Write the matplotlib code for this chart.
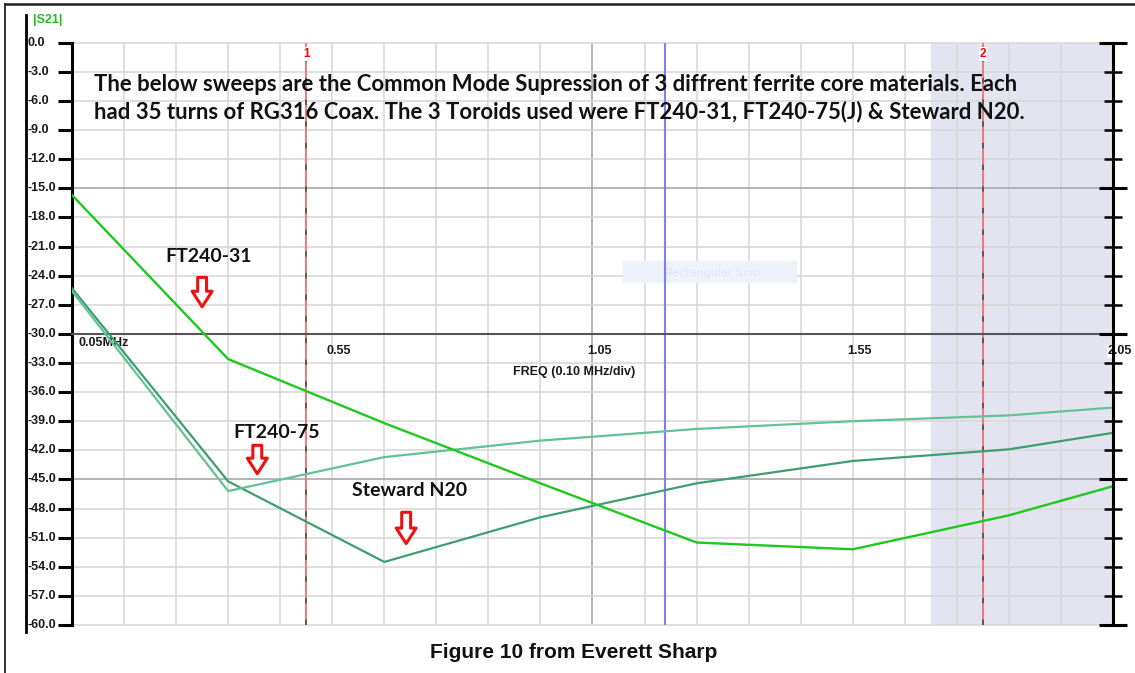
import matplotlib
matplotlib.use('Agg')
import matplotlib.pyplot as plt
import matplotlib.transforms as mtransforms
from matplotlib.lines import Line2D
from matplotlib.patches import Rectangle
import numpy as np

# sweep points (MHz) and |S21| (dB)
freq = [0.05, 0.35, 0.65, 0.95, 1.25, 1.55, 1.85, 2.05]
ft240_31 = [-15.7, -32.6, -39.2, -45.4, -51.5, -52.2, -48.7, -45.7]
ft240_75 = [-25.6, -46.2, -42.7, -41.0, -39.8, -39.0, -38.4, -37.6]
steward_n20 = [-25.3, -45.2, -53.5, -48.9, -45.4, -43.1, -41.9, -40.2]

marker_freqs = [0.50, 1.80]
marker_names = ['1', '2']
blue_freq = 1.19
shade_span = (1.70, 2.05)

y_ticks = np.arange(0, -61, -3)
x_labels = {0.55: '0.55', 1.05: '1.05', 1.55: '1.55', 2.05: '2.05'}

W, H = 1135, 673
fig = plt.figure(figsize=(W / 100, H / 100), dpi=100)
x0, x1, yt, yb = 72, 1113, 42.7, 625
ax = fig.add_axes([x0 / W, 1 - yb / H, (x1 - x0) / W, (yb - yt) / H])
ax.set_xlim(0.05, 2.05)
ax.set_ylim(-60, 0)

# grid
for f in np.arange(0.15, 2.05, 0.1):
    c = '#a8a8a8' if abs(f - 1.05) < 1e-6 else '#d9d9d9'
    ax.axvline(f, color=c, lw=1.2, zorder=1)
for v in y_ticks:
    c = '#a8a8a8' if v in (-15, -45) else '#d9d9d9'
    ax.axhline(v, color=c, lw=1.2, zorder=1, clip_on=False)

ax.axvspan(*shade_span, color='#e4e4f0', zorder=0.5)

# watermark of the snipping tool
ax.add_patch(Rectangle((1.05 + 0.058, -22.5), 0.333, -2.2, color='#eef3fb', zorder=1.5))
ax.text(1.19, -23.7, 'Rectangular Snip', color='#dfe6f1', fontsize=8, va='center', zorder=1.6)

# markers
for f, name in zip(marker_freqs, marker_names):
    ax.axvline(f, color='#f07070', lw=1.3, zorder=2)
    ax.axvline(f, color='#555555', lw=1.3, dashes=(3, 9), zorder=2.1)
    ax.text(f, -1.15, name, color='red', fontsize=8.5, fontweight='bold', ha='center', va='center',
            family='Liberation Sans', bbox=dict(facecolor='white', edgecolor='none', pad=0.5), zorder=3)
ax.axvline(blue_freq, color='#8080f0', lw=1.5, zorder=2)

# traces
ax.plot(freq, steward_n20, color='#3e9e70', lw=1.6, zorder=4)
ax.plot(freq, ft240_75, color='#62c293', lw=1.6, zorder=4)
ax.plot(freq, ft240_31, color='#1ec81e', lw=1.7, zorder=4.5)

# axes
for s in ['top', 'right']:
    ax.spines[s].set_visible(False)
ax.spines['left'].set_linewidth(2.2)
ax.spines['bottom'].set_position(('data', -30))
ax.spines['bottom'].set_color('#555555')
ax.spines['bottom'].set_linewidth(1.5)
ax.set_xticks(np.arange(0.05, 2.06, 0.1))
ax.tick_params(axis='x', direction='inout', length=8, width=1.3, color='#555555', labelbottom=False)
ax.set_yticks(y_ticks)
ax.tick_params(axis='y', direction='out', length=10, width=2.2, labelleft=False)

axr = ax.twinx()
axr.set_ylim(-60, 0)
for s in ['top', 'left', 'bottom']:
    axr.spines[s].set_visible(False)
axr.spines['right'].set_linewidth(2.2)
axr.set_yticks([0, -15, -30, -45, -60])
axr.set_yticks(y_ticks, minor=True)
axr.tick_params(axis='y', which='major', direction='inout', length=20, width=2.2, labelright=False)
axr.tick_params(axis='y', which='minor', direction='inout', length=13, width=1.8)
axr.set_xticks([])

# y labels at the far left
lab_font = dict(fontsize=9, fontweight='bold', family='Liberation Sans', color='#1a1a1a')
tr = mtransforms.blended_transform_factory(fig.transFigure, ax.transData)
for v in y_ticks:
    ax.text(28 / W, v, f'{v:.1f}', transform=tr, va='center', ha='left', **lab_font)
fig.text(33 / W, 1 - 20 / H, '|S21|', color='#22bb22', fontsize=9, fontweight='bold',
         family='Liberation Sans', va='center')

# x labels along the -30 line
ax.text(0.062, -30.9, '0.05MHz', va='center', ha='left', **lab_font)
for f, lab in x_labels.items():
    ax.text(f + 0.013, -31.8, lab, va='center', ha='center', zorder=5,
            bbox=dict(facecolor='white', edgecolor='none', pad=0.3) if f > 2 else None, **lab_font)
ax.text(1.015, -33.9, 'FREQ (0.10 MHz/div)', va='center', ha='center', **lab_font)

# notes
note = ('The below sweeps are the Common Mode Supression of 3 diffrent ferrite core materials. Each\n'
        'had 35 turns of RG316 Coax. The 3 Toroids used were FT240-31, FT240-75(J) & Steward N20.')
fig.text(94 / W, 1 - 98 / H, note, family='Lato', fontweight='bold', fontsize=15.9,
         color='#111111', va='center', ha='left', linespacing=1.3)

labels = [('FT240-31', 165, 257), ('FT240-75', 233, 432), ('Steward N20', 352, 491)]
for txt, px, py in labels:
    fig.text(px / W, 1 - py / H, txt, family='Lato', fontweight='bold', fontsize=14,
             color='#111111', va='center', ha='left')

arrows = [(0.30, -23.9, -27.5), (0.406, -41.2, -44.7), (0.692, -48.1, -51.9)]
for f, ytop, ybot in arrows:
    ax.annotate('', xy=(f, ybot), xytext=(f, ytop),
                arrowprops=dict(arrowstyle='simple,head_length=0.7,head_width=0.9,tail_width=0.4',
                                mutation_scale=16, fc='white', ec='#ee1111', lw=2.2),
                zorder=6)

# outer frame of the screenshot
fig.add_artist(Line2D([26 / W, 26 / W], [1 - 15 / H, 1 - 632 / H], color='black', lw=2))
fig.add_artist(Line2D([5 / W, 5 / W], [1 - 4 / H, 0], color='#222222', lw=1.3))
fig.add_artist(Line2D([5 / W, 1], [1 - 4 / H, 1 - 4 / H], color='#222222', lw=1.8))

fig.text(574 / W, 1 - 653 / H, 'Figure 10 from Everett Sharp', family='Liberation Sans',
         fontweight='bold', fontsize=15, color='#111111', ha='center', va='center')

fig.savefig('out.png', dpi=100)
